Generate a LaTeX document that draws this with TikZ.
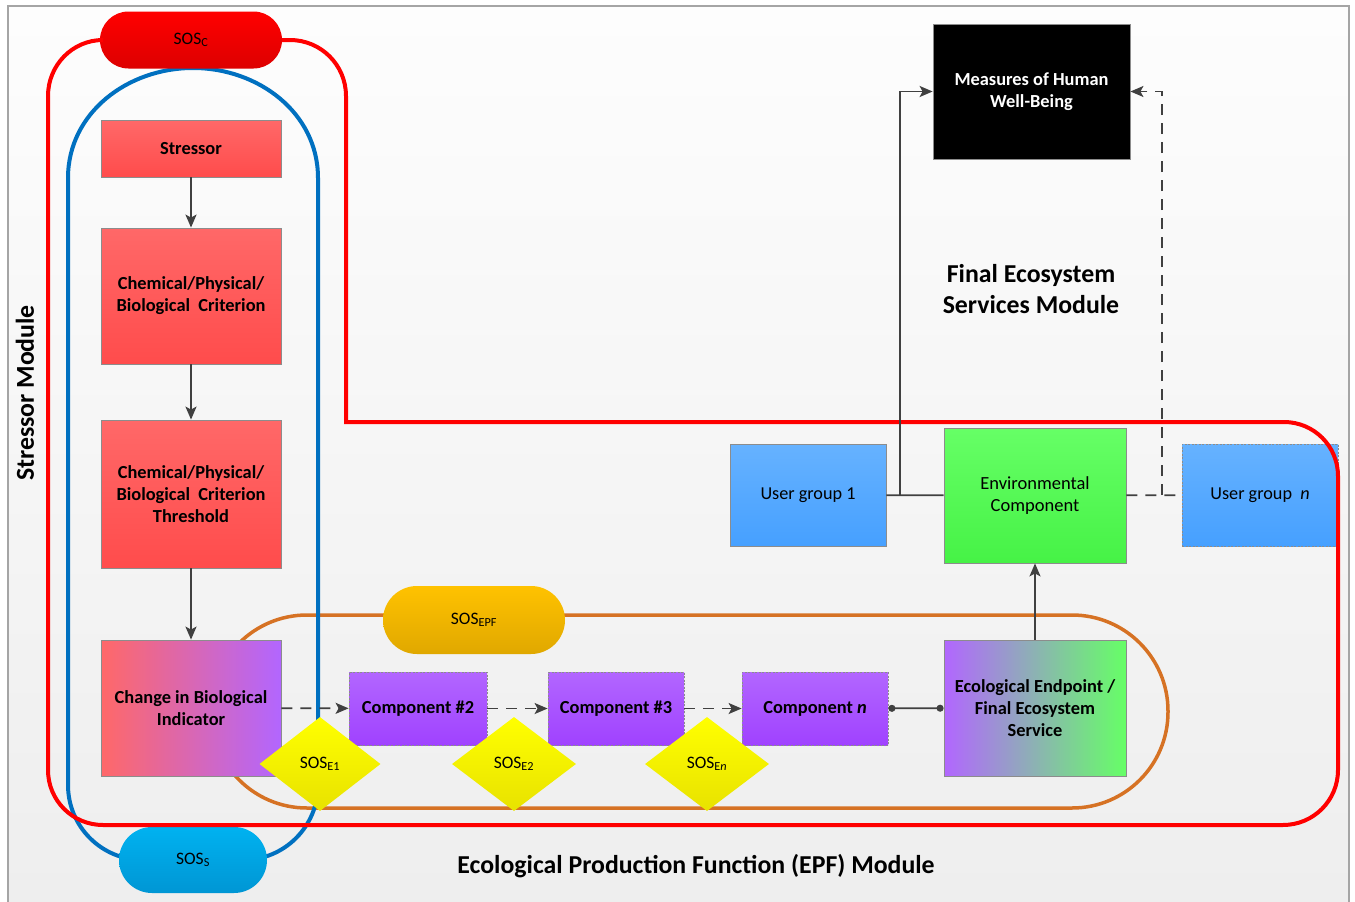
\documentclass[tikz,border=0pt]{standalone}
\usepackage{fontspec}
\setmainfont{Carlito}
\usepackage{tikz}
\usetikzlibrary{arrows.meta,shapes.geometric,shapes.misc}

\definecolor{rahmengrau}{RGB}{165,165,165}
\definecolor{pfeilgrau}{RGB}{64,64,64}
\definecolor{randgrau}{RGB}{140,140,140}
\definecolor{schleiferot}{RGB}{255,0,0}
\definecolor{schleifeblau}{RGB}{0,112,192}
\definecolor{schleifeorange}{RGB}{214,114,36}
\definecolor{rotoben}{RGB}{255,104,104}
\definecolor{rotunten}{RGB}{255,76,76}
\definecolor{lilaoben}{RGB}{178,102,255}
\definecolor{lilaunten}{RGB}{160,66,255}
\definecolor{gruenoben}{RGB}{102,255,102}
\definecolor{gruenunten}{RGB}{70,242,70}
\definecolor{blauoben}{RGB}{102,178,255}
\definecolor{blauunten}{RGB}{70,160,255}

\begin{document}
\begin{tikzpicture}[x=1pt,y=-1pt,
  kasten/.style={draw=randgrau, line width=0.8pt, inner sep=2pt, align=center,
    font=\bfseries\fontsize{18.4}{22}\selectfont},
  rotkasten/.style={kasten, top color=rotoben, bottom color=rotunten, minimum width=180pt},
  lilakasten/.style={kasten, top color=lilaoben, bottom color=lilaunten, dash pattern=on 2pt off 1.5pt, minimum height=73pt},
  blaukasten/.style={kasten, top color=blauoben, bottom color=blauunten, font=\fontsize{18.2}{22}\selectfont,
    minimum width=156pt, minimum height=102pt},
  sospille/.style={rounded rectangle, inner sep=0pt, font=\fontsize{17.5}{20}\selectfont},
  raute/.style={diamond, inner sep=0pt, minimum width=124pt, minimum height=94pt,
    top color=yellow, bottom color={rgb,255:red,232;green,226;blue,0}, font=\fontsize{17.5}{20}\selectfont},
  titel/.style={align=center, font=\bfseries\fontsize{25.8}{31}\selectfont},
  pfeil/.style={draw=pfeilgrau, line width=1.8pt, -{Stealth[length=13pt,width=11pt,inset=3pt]}},
  strich/.style={draw=pfeilgrau, line width=1.8pt},
  gestrichelt/.style={dash pattern=on 11pt off 8pt}]
  \useasboundingbox (0,0) rectangle (1355,902);
  % Hintergrund mit Rahmen:
  \shade[top color={rgb,255:red,253;green,253;blue,253}, bottom color={rgb,255:red,238;green,238;blue,238}]
    (8,6) rectangle (1349,902);
  \draw[rahmengrau, line width=1.5pt] (8,902) -- (8,6) -- (1349,6) -- (1349,902);

  % orange Schleife (EPF):
  \draw[schleifeorange, line width=3.5pt, rounded corners=96pt] (211,615) rectangle (1168,808);
  % blaue Schleife (Stressor):
  \draw[schleifeblau, line width=4pt] (68,178) to[out=90,in=180] (193,68) to[out=0,in=90] (318,178)
    -- (318,785) to[out=-90,in=0] (243,860) -- (143,860) to[out=180,in=-90] (68,785) -- cycle;

  % Stressor-Modul, Kaesten von oben nach unten:
  \node[rotkasten, minimum height=57pt] (stressor) at (191,148.5) {Stressor};
  \node[rotkasten, minimum height=136pt] (kriterium) at (191,296) {Chemical/Physical/\\Biological\ \ Criterion};
  \node[rotkasten, minimum height=148pt] (schwelle) at (191,494) {Chemical/Physical/\\Biological\ \ Criterion\\Threshold};
  \node[kasten, left color=rotoben, right color=lilaoben, minimum width=180pt, minimum height=136pt]
    (aenderung) at (191,708) {Change in Biological\\Indicator};

  % Komponenten der EPF:
  \node[lilakasten, minimum width=138pt] (komp2) at (418,708.5) {Component \#2};
  \node[lilakasten, minimum width=136pt] (komp3) at (616,708.5) {Component \#3};
  \node[lilakasten, minimum width=146pt] (kompn) at (815,708.5) {Component \textit{n}};
  \node[kasten, left color=lilaoben, right color=gruenoben, minimum width=182pt, minimum height=136pt]
    (endpunkt) at (1035,708) {Ecological Endpoint /\\Final Ecosystem\\Service};

  % Final Ecosystem Services:
  \node[kasten, top color=gruenoben, bottom color=gruenunten, font=\fontsize{18.5}{22}\selectfont,
    minimum width=182pt, minimum height=135pt] (umwelt) at (1035,495.5) {Environmental\\Component};
  \node[blaukasten] (nutzer1) at (808,495) {User group 1};
  \node[blaukasten, dash pattern=on 2pt off 1.5pt] (nutzern) at (1260,495) {User group\ \ \textit{n}};
  \node[kasten, fill=black, text=white, font=\bfseries\fontsize{18.4}{22}\selectfont,
    minimum width=197pt, minimum height=135pt] (wohl) at (1031.5,91.5) {Measures of Human\\Well-Being};

  % SOS-Knoten:
  \node[sospille, top color=red, bottom color={rgb,255:red,221;green,0;blue,0},
    minimum width=182pt, minimum height=57pt] (sosc) at (191,40) {SOS\textsubscript{C}};
  \node[sospille, top color={rgb,255:red,0;green,178;blue,240}, bottom color={rgb,255:red,0;green,150;blue,212},
    minimum width=148pt, minimum height=66pt] (soss) at (193,860) {SOS\textsubscript{S}};
  \node[sospille, top color={rgb,255:red,255;green,194;blue,0}, bottom color={rgb,255:red,224;green,168;blue,0},
    minimum width=182pt, minimum height=68pt] (sosepf) at (474,620) {SOS\textsubscript{EPF}};
  \node[raute, minimum width=121pt] (sose1) at (320,764) {SOS\textsubscript{E1}};
  \node[raute] (sose2) at (514,764) {SOS\textsubscript{E2}};
  \node[raute] (sosen) at (707,764) {SOS\textsubscript{E\textit{n}}};

  % rote Schleife, von SOS_C aus einmal rundherum:
  \draw[schleiferot, line width=4pt] (sosc.east) -- (290,40) to[out=0,in=90] (346,96) -- (346,422)
    -- (1284,422) to[out=0,in=90] (1338,476) -- (1338,770) to[out=-90,in=0] (1283,825)
    -- (103,825) to[out=180,in=-90] (48,770) -- (48,96) to[out=90,in=180] (103,40) -- (sosc.west);

  % Ueberschriften der Module:
  \node[titel] (fesmodul) at (1031,289) {Final Ecosystem\\Services Module};
  \node[titel, rotate=90] (stressormodul) at (25,393) {Stressor Module};
  \node[titel] (epfmodul) at (696,866) {Ecological Production Function (EPF) Module};

  % Pfeile im Stressor-Modul:
  \draw[pfeil] (stressor) -- (kriterium);
  \draw[pfeil] (kriterium) -- (schwelle);
  \draw[pfeil] (schwelle) -- (aenderung);
  % gestrichelte Pfeile entlang der Komponenten:
  \draw[pfeil, gestrichelt] (aenderung) -- (komp2);
  \draw[pfeil, gestrichelt] (komp2) -- (komp3);
  \draw[pfeil, gestrichelt] (komp3) -- (kompn);
  \draw[strich, {Circle[length=7pt]}-{Circle[length=7pt]}] (kompn) -- (endpunkt);
  \draw[pfeil] (endpunkt) -- (umwelt);
  % Nutzergruppen und Wohlergehen:
  \draw[strich] (nutzer1) -- (umwelt) coordinate[pos=0.24] (abzweig1);
  \draw[strich, gestrichelt] (umwelt) -- (nutzern) coordinate[pos=0.64] (abzweig2);
  \draw[pfeil] (abzweig1) |- (wohl.west);
  \draw[pfeil, gestrichelt] (abzweig2) |- (wohl.east);
\end{tikzpicture}
\end{document}
